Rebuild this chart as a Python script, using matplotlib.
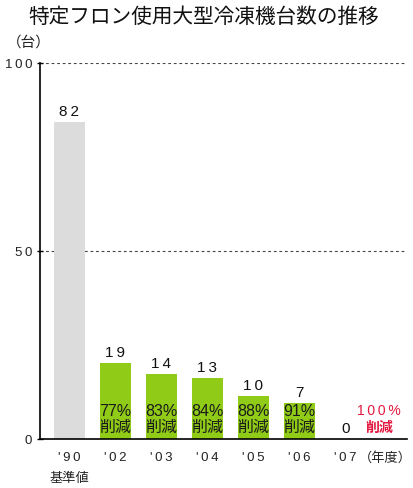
import numpy as np
import matplotlib
matplotlib.use('Agg')
import matplotlib.pyplot as plt

plt.rcParams['font.family'] = ['Liberation Sans', 'Noto Sans CJK JP', 'DejaVu Sans']

# data
years = ["'90", "'02", "'03", "'04", "'05", "'06", "'07"]
counts = [82, 19, 14, 13, 10, 7, 0]
# bar heights as they are drawn in the original chart
bar_heights = [84.3, 20.2, 17.3, 16.2, 11.4, 9.6, 0]
reductions = ['', '77%', '83%', '84%', '88%', '91%', '100%']
y_ticks = [0, 50, 100]

W, H = 413, 489
fig = plt.figure(figsize=(W / 100, H / 100), dpi=100)
ax = fig.add_axes([40 / W, 49 / H, 367 / W, 376 / H])

x = np.arange(len(years))
colors = ['#dcdcdc'] + ['#8fcb17'] * (len(years) - 1)

ax.bar(x, bar_heights, width=0.674, color=colors, zorder=2)

ax.set_xlim(-0.641, 7.337)
ax.set_ylim(0, 100)

for v in [50, 100]:
    ax.axhline(v, color='#444444', linewidth=0.8, linestyle=(0, (2.5, 2.5)), zorder=1)

ax.spines['top'].set_visible(False)
ax.spines['right'].set_visible(False)
ax.spines['left'].set_linewidth(1.2)
ax.spines['bottom'].set_linewidth(1.2)


def spaced(s):
    return '\u2009'.join(s)


ax.set_yticks(y_ticks)
ax.set_yticklabels([spaced(str(t)) for t in y_ticks], fontsize=9.5,
                   family=['Liberation Sans', 'DejaVu Sans'])
ax.tick_params(axis='y', direction='inout', length=5, width=1, pad=3)
ax.set_xticks([])

# value labels above the bars
for i, (c, h) in enumerate(zip(counts, bar_heights)):
    ax.annotate(spaced(str(c)), (x[i], h), xytext=(0, 3), textcoords='offset points',
                ha='center', va='bottom', fontsize=11, color='#111111',
                family=['Liberation Sans', 'DejaVu Sans'])

# reduction labels inside the bars
for i, r in enumerate(reductions):
    if r == '' or i == len(years) - 1:
        continue
    ax.text(x[i], 7.7, r, ha='center', va='center', fontsize=11.5, color='#1a1a1a', zorder=3)
    ax.text(x[i], 3.4, '削減', ha='center', va='center', fontsize=11.5, color='#1a1a1a',
            family='Noto Sans CJK JP', zorder=3)

# 100% label for '07
ax.text(6.73, 7.7, spaced(reductions[-1]), ha='center', va='center', fontsize=10,
        color='#e3173e', family=['Liberation Sans', 'DejaVu Sans'])
ax.text(6.73, 3.2, '削減', ha='center', va='center', fontsize=10, color='#e3173e',
        family='Noto Sans CJK JP', fontweight='bold')

# x labels
for i, yr in enumerate(years):
    ax.text(x[i], -4.8, spaced(yr), ha='center', va='center', fontsize=9.5, color='#222222',
            family=['Liberation Sans', 'DejaVu Sans'])
ax.text(0, -10.2, '基準値', ha='center', va='center', fontsize=9.5, color='#222222',
        family='Noto Sans CJK JP')
ax.text(6.3, -4.8, '（年度）', ha='left', va='center', fontsize=9.5, color='#222222',
        family='Noto Sans CJK JP')

for t in ax.get_yticklabels():
    t.set_color('#222222')

fig.text(204 / W, 1 - 17 / H, '特定フロン使用大型冷凍機台数の推移', ha='center', va='center',
         fontsize=14.9, color='#111111', family='Noto Sans CJK JP')
fig.text(7 / W, 1 - 43 / H, '（台）', ha='left', va='center', fontsize=10.5, color='#222222',
         family='Noto Sans CJK JP')

fig.savefig('out.png', dpi=100)
